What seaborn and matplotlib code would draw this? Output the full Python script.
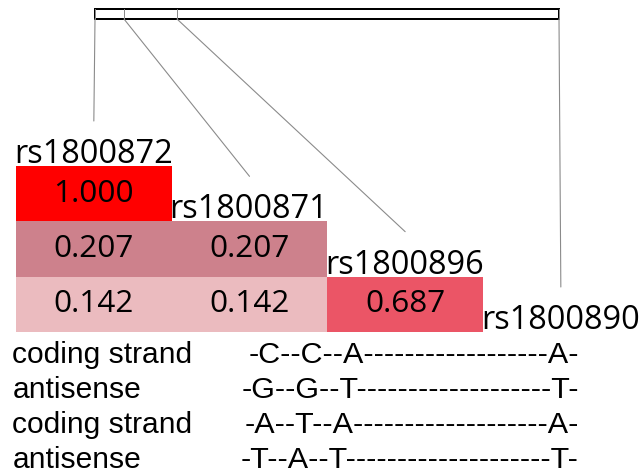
import numpy as np
import pandas as pd
import matplotlib
matplotlib.use("Agg")
import matplotlib.pyplot as plt
import seaborn as sns
from matplotlib.colors import LinearSegmentedColormap
from matplotlib.patches import Rectangle

# ---------------- data ----------------
snps = ["rs1800872", "rs1800871", "rs1800896", "rs1800890"]
snp_map_pos = [95, 124, 177, 559]          # marker positions along the gene bar
ld_row1 = [1.000]
ld_row2 = [0.207, 0.207]
ld_row3 = [0.142, 0.142, 0.687]
ld_levels = [0.142, 0.207, 0.687, 1.000]
ld_level_colors = ["#EBBBBF", "#CC808B", "#EB5566", "#FF0000"]
strand_labels = ["coding strand", "antisense", "coding strand", "antisense"]
allele_rows = [
    "-C--C--A------------------A-",
    "-G--G--T-------------------T-",
    "-A--T--A-------------------A-",
    "-T--A--T--------------------T-",
]

# ---------------- figure ----------------
W, H, DPI = 642, 476, 100
PT = 72.0 / DPI  # points per pixel

sns.set_theme(style="white")
plt.rcParams["font.family"] = ["Open Sans", "DejaVu Sans"]

fig = plt.figure(figsize=(W / DPI, H / DPI), dpi=DPI)
fig.patch.set_facecolor("white")

# overlay axes in pixel coordinates
ov = fig.add_axes([0, 0, 1, 1])
ov.set_xlim(0, W)
ov.set_ylim(H, 0)
ov.axis("off")

# heatmap geometry (pixels)
hm_left, hm_right, hm_top, hm_bottom = 16, 483, 166, 332
ncol = 3
cw = (hm_right - hm_left) / ncol
rh = (hm_bottom - hm_top) / ncol

hm_ax = fig.add_axes([hm_left / W, 1 - hm_bottom / H,
                      (hm_right - hm_left) / W, (hm_bottom - hm_top) / H])

rows = [ld_row1, ld_row2, ld_row3]
mat = np.full((3, 3), np.nan)
for r, vals in enumerate(rows):
    for c, v in enumerate(vals):
        mat[r, c] = v
df = pd.DataFrame(mat)
mask = np.isnan(mat)

vmin, vmax = min(ld_levels), max(ld_levels)
nodes = [((v - vmin) / (vmax - vmin), col) for v, col in zip(ld_levels, ld_level_colors)]
cmap = LinearSegmentedColormap.from_list("ld", nodes)

sns.heatmap(df, mask=mask, cmap=cmap, vmin=vmin, vmax=vmax, cbar=False,
            annot=True, fmt=".3f",
            annot_kws={"color": "black", "fontsize": 31.5 * PT, "family": "Open Sans"},
            xticklabels=False, yticklabels=False, ax=hm_ax)
hm_ax.axis("off")

# gene bar
bar_top, bar_h = 9, 10
line_col = "#8a8a8a"
for i, pos in enumerate(snp_map_pos):
    cx = hm_left + (i + 0.5) * cw
    ly = hm_top + i * rh - 45
    ov.plot([pos, pos], [bar_top, bar_top + bar_h], color=line_col, lw=1.0 * PT)
    ov.plot([pos, cx], [bar_top + bar_h, ly], color=line_col, lw=1.1 * PT)
ov.add_patch(Rectangle((snp_map_pos[0], bar_top), snp_map_pos[-1] - snp_map_pos[0], bar_h,
                       fill=False, edgecolor="black", lw=2.0 * PT))

# SNP labels
for i, name in enumerate(snps):
    ov.text(hm_left + i * cw - 2, hm_top + i * rh - 3, name,
            ha="left", va="baseline", fontsize=32.5 * PT, family="Open Sans", color="black")

# strand rows
base_y0, dy = 363, 35
for k, (lab, seq) in enumerate(zip(strand_labels, allele_rows)):
    y = base_y0 + k * dy
    ov.text(12.5, y, lab, ha="left", va="baseline", fontsize=30 * PT,
            family="Liberation Sans", color="black")
    ov.text(579, y, seq, ha="right", va="baseline", fontsize=30.5 * PT,
            family="Liberation Sans", color="black")

fig.savefig("out.png", dpi=DPI, facecolor="white")
